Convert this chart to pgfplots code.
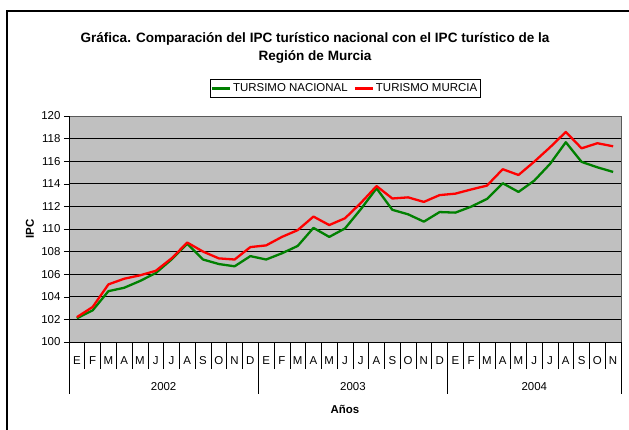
\documentclass[border=0pt]{standalone}
\usepackage{fontspec}
\setmainfont{Liberation Sans}
\usepackage{pgfplots}
\usepackage{pgfplotstable}
\pgfplotsset{compat=1.18}
\usetikzlibrary{calc}

\definecolor{areagray}{HTML}{C0C0C0}
\definecolor{nacgreen}{HTML}{008000}
\definecolor{murred}{HTML}{FF0000}

% month index (0 = E 2002), nacional, murcia
\pgfplotstableread{
x  nac     mur
0  102.1   102.2
1  102.8   103.1
2  104.5   105.1
3  104.8   105.6
4  105.4   105.9
5  106.1   106.3
6  107.3   107.4
7  108.7   108.8
8  107.3   108.0
9  106.9   107.4
10 106.7   107.3
11 107.6   108.4
12 107.3   108.55
13 107.85  109.3
14 108.5   109.9
15 110.1   111.1
16 109.3   110.35
17 110.05  110.95
18 111.75  112.3
19 113.6   113.8
20 111.7   112.7
21 111.3   112.8
22 110.65  112.4
23 111.5   113.0
24 111.45  113.13
25 111.98  113.5
26 112.66  113.84
27 114.05  115.29
28 113.28  114.78
29 114.28  115.96
30 115.76  117.23
31 117.68  118.59
32 115.94  117.14
33 115.46  117.59
34 115.05  117.32
}\ipc

\begin{document}
\begin{tikzpicture}[x=1bp,y=1bp,font=\fontsize{11.5}{13.5}\selectfont]
\begin{axis}[
    scale only axis, width=552bp, height=226bp,
    clip=false,
    xmin=-0.5, xmax=34.5,
    ymin=100, ymax=120,
    ytick={100,102,...,120},
    /pgf/number format/assume math mode=true,
    axis background/.style={fill=areagray},
    axis line style={draw=gray!70!black, line width=0.6bp},
    ymajorgrids,
    major grid style={black, line width=0.7bp},
    tick align=outside,
    major tick length=5bp,
    tick style={black, line width=0.6bp},
    xtick pos=bottom, ytick pos=left,
    xtick={0,...,34},
    xticklabels={E,F,M,A,M,J,J,A,S,O,N,D,E,F,M,A,M,J,J,A,S,O,N,D,E,F,M,A,M,J,J,A,S,O,N},
    xtick style={draw=none},
    extra x ticks={-0.5,0.5,...,34.5},
    extra x tick labels={},
    extra x tick style={xtick style={draw=black, line width=0.6bp}, major tick length=27bp, tick align=outside, grid=none},
    xticklabel style={anchor=center, yshift=-14bp},
    every axis y label/.style={at={(axis description cs:-0.0707,0.5)}, rotate=90, anchor=center, font=\bfseries\fontsize{11.5}{13.5}\selectfont},
    every axis x label/.style={at={(axis description cs:0.5,-0.2965)}, anchor=center, font=\bfseries\fontsize{11.5}{13.5}\selectfont},
    ylabel={IPC},
    xlabel={Años},
    legend style={at={(0.5,1.1217)}, anchor=center, draw=black, line width=0.6bp,
        legend columns=2, inner xsep=1bp, inner ysep=2.5bp,
        /tikz/every even column/.append style={column sep=4bp}},
    legend image code/.code={\draw[#1] (0bp,0bp) -- (18bp,0bp);},
]
\addplot[nacgreen, line width=2.3bp, line join=round] table[x=x, y=nac] {\ipc};
\addlegendentry{TURSIMO NACIONAL}
\addplot[murred, line width=2.3bp, line join=round] table[x=x, y=mur] {\ipc};
\addlegendentry{TURISMO MURCIA}

\draw[black, line width=0.8bp] (rel axis cs:0,0) -- (rel axis cs:0,1);
\draw[black, line width=0.8bp] (rel axis cs:0,0) -- (rel axis cs:1,0);
% year separators below the month labels
\draw[black, line width=0.6bp] (axis cs:-0.5,100) -- ([yshift=-52bp]axis cs:-0.5,100);
\draw[black, line width=0.6bp] (axis cs:11.5,100) -- ([yshift=-52bp]axis cs:11.5,100);
\draw[black, line width=0.6bp] (axis cs:23.5,100) -- ([yshift=-52bp]axis cs:23.5,100);
\draw[black, line width=0.6bp] (axis cs:34.5,100) -- ([yshift=-52bp]axis cs:34.5,100);
\node at (axis cs:5.5,100) [yshift=-45bp] {2002};
\node at (axis cs:17.5,100) [yshift=-45bp] {2003};
\node at (axis cs:29,100) [yshift=-45bp] {2004};
\coordinate (P) at (rel axis cs:0,0);
\end{axis}

% page: 629 x 429, plot box lower-left at (69,87)
\pgfresetboundingbox
\coordinate (O) at ($(P)+(-69,-87)$);
\useasboundingbox (O) rectangle ++(629,429);
% chart area frame
\draw[line width=2.5bp] ($(O)+(7,-10)$) -- ($(O)+(7,418)$) -- ($(O)+(640,418)$);

\node[font=\bfseries\fontsize{13.6}{18.5}\selectfont, align=center] at ($(O)+(315,381)$)
  {Gráfica. Comparación del IPC turístico nacional con el IPC turístico de la\\Región de Murcia};
\end{tikzpicture}
\end{document}
